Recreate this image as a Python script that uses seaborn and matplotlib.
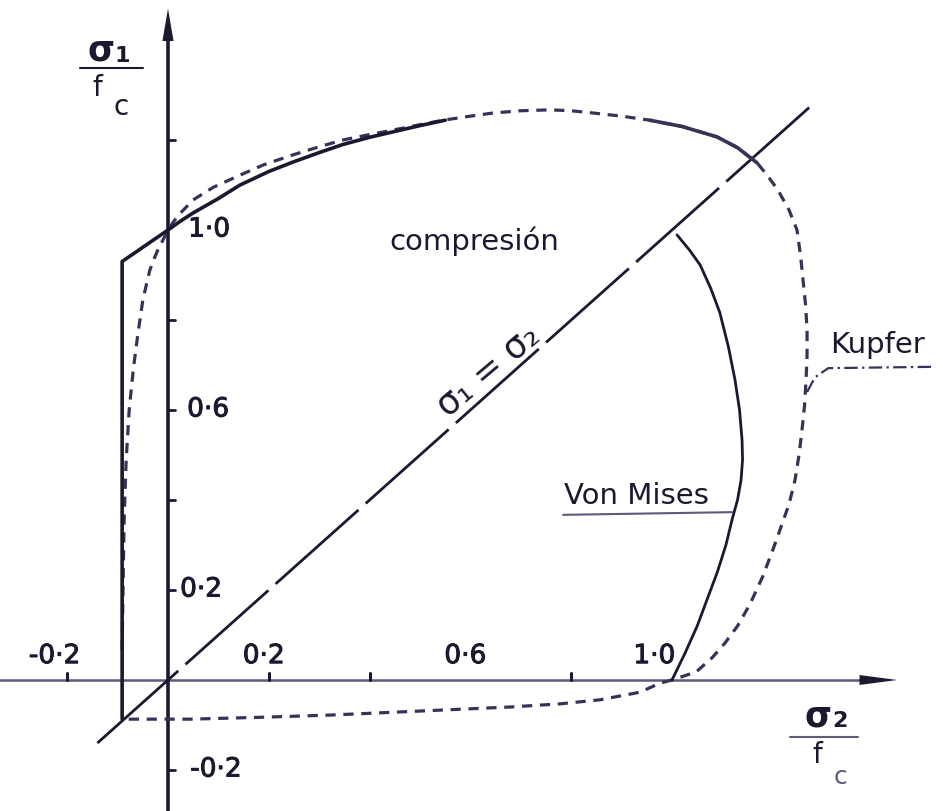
import matplotlib
matplotlib.use("Agg")
import matplotlib.pyplot as plt
import matplotlib.patheffects as pe
import numpy as np
import pandas as pd
import seaborn as sns

# ---- envelope data (sigma2/fc, sigma1/fc), compression positive ----
# Kupfer biaxial envelope: tension-compression branch, then compression quadrant
kupfer_s2 = [-0.091, -0.089, -0.087, -0.083, -0.077, -0.069, -0.060, -0.050, -0.043,
             -0.036, -0.028, -0.020, -0.009, 0.0,
             0.012, 0.025, 0.05, 0.09, 0.143, 0.19, 0.248, 0.30, 0.347, 0.40,
             0.446, 0.50, 0.546, 0.60, 0.645, 0.70, 0.758, 0.80, 0.843, 0.90,
             0.956, 1.02, 1.089, 1.13, 1.169,
             1.19, 1.21, 1.232, 1.248, 1.255, 1.26, 1.265, 1.268, 1.268, 1.266,
             1.263, 1.258, 1.252, 1.244, 1.232, 1.214, 1.20, 1.18, 1.155, 1.13,
             1.105, 1.08, 1.048, 1.0]
kupfer_s1 = [0.067, 0.222, 0.356, 0.489, 0.60, 0.689, 0.767, 0.844, 0.878,
             0.911, 0.935, 0.956, 0.98, 1.0,
             1.02, 1.038, 1.067, 1.095, 1.122, 1.145, 1.167, 1.185, 1.20, 1.212,
             1.222, 1.234, 1.244, 1.253, 1.26, 1.265, 1.267, 1.265, 1.26, 1.253,
             1.244, 1.23, 1.207, 1.183, 1.149,
             1.12, 1.089, 1.045, 1.0, 0.944, 0.889, 0.833, 0.778, 0.722, 0.667,
             0.61, 0.556, 0.50, 0.444, 0.39, 0.333, 0.289, 0.23, 0.169, 0.12,
             0.082, 0.05, 0.018, 0.0]
# Kupfer envelope, compression-tension branch below the sigma2 axis
kupfer_t_s2 = [1.0, 0.976, 0.937, 0.857, 0.778, 0.679, 0.599, 0.46, 0.321, 0.18, 0.044, -0.091]
kupfer_t_s1 = [0.0, -0.007, -0.027, -0.044, -0.053, -0.060, -0.064, -0.071, -0.078, -0.083, -0.087, -0.087]

# experimental (solid) envelope
exp_s2 = [-0.091, -0.091, 0.0, 0.025, 0.05, 0.10, 0.143, 0.20, 0.248, 0.30,
          0.347, 0.40, 0.446, 0.50, 0.55]
exp_s1 = [-0.087, 0.93, 1.0, 1.02, 1.038, 1.07, 1.10, 1.13, 1.151, 1.172,
          1.19, 1.206, 1.218, 1.232, 1.244]
exp2_s2 = [0.956, 1.02, 1.089, 1.13, 1.169]
exp2_s1 = [1.244, 1.23, 1.207, 1.183, 1.149]

# Von Mises criterion
vm_s2 = [1.01, 1.035, 1.056, 1.077, 1.095, 1.112, 1.125, 1.134, 1.139, 1.14,
         1.137, 1.13, 1.12, 1.107, 1.09, 1.07, 1.05, 1.026, 1.0]
vm_s1 = [0.989, 0.955, 0.922, 0.87, 0.816, 0.74, 0.667, 0.60, 0.533, 0.49,
         0.444, 0.40, 0.36, 0.30, 0.24, 0.18, 0.12, 0.06, 0.0]

# equal biaxial line sigma1 = sigma2
diag = [-0.14, 1.285]

# axis ticks and labels
xticks = [-0.2, 0.2, 0.4, 0.8]
yticks = [1.2, 0.8, 0.6, 0.4, 0.2, -0.2]
xlabels = ["-0·2", "0·2", "0·6", "1·0"]
xlabel_vals = [-0.2, 0.2, 0.6, 1.0]
ylabels = ["1·0", "0·6", "0·2", "-0·2"]
ylabel_vals = [1.0, 0.6, 0.2, -0.2]

INK = "#1d1830"
DASH = "#3b3156"
AXISX = "#625877"

sns.set_theme(style="white")
plt.rcParams["font.family"] = ["DejaVu Sans"]

fig = plt.figure(figsize=(9.43, 8.11), dpi=100, facecolor="white")
ax = fig.add_axes([0, 0, 1, 1])
ax.set_xlim(-168 / 504, (943 - 168) / 504)
ax.set_ylim((680 - 811) / 450, 680 / 450)
ax.set_facecolor("white")
ax.axis("off")

# ---- axes with arrows ----
ax.plot([-0.34, 1.375], [0, 0], color=AXISX, lw=1.8, solid_capstyle="butt", zorder=2)
ax.fill([1.372, 1.447, 1.372], [0.011, 0.0, -0.011], color=INK, lw=0, zorder=3)
ax.plot([0, 0], [-0.30, 1.43], color=INK, lw=2.6, solid_capstyle="butt", zorder=4)
ax.fill([-0.011, 0.0, 0.011], [1.42, 1.492, 1.42], color=INK, lw=0, zorder=4)

for t in xticks:
    ax.plot([t, t], [0, 0.016], color=INK, lw=2.2, zorder=3)
for t in yticks:
    ax.plot([0, 0.014], [t, t], color=INK, lw=2.0, zorder=3)

tick_fx = [pe.withStroke(linewidth=0.7, foreground=INK)]
xoff = {-0.2: -0.025, 0.2: -0.01, 0.6: -0.01, 1.0: -0.035}
for v, s in zip(xlabel_vals, xlabels):
    ax.text(v + xoff[v], 0.053, s, ha="center", va="center", fontsize=19,
            color=INK, path_effects=tick_fx)
ypos = {1.0: 0.040, 0.6: 0.038, 0.2: 0.024, -0.2: 0.044}
for v, s in zip(ylabel_vals, ylabels):
    ax.text(ypos[v], v + 0.001, s, ha="left", va="center", fontsize=19,
            color=INK, path_effects=tick_fx)

# ---- envelopes ----
def curve(xs, ys, **kw):
    df = pd.DataFrame({"s2": xs, "s1": ys})
    sns.lineplot(data=df, x="s2", y="s1", sort=False, estimator=None, ax=ax,
                 legend=False, **kw)

curve(diag, diag, color=INK, lw=2.0, linestyle=(1, (40, 3.5)), zorder=3)
curve(kupfer_s2, kupfer_s1, color=DASH, lw=2.3, linestyle=(0, (3.2, 2.4)), zorder=5)
curve(kupfer_t_s2, kupfer_t_s1, color=DASH, lw=2.3, linestyle=(0, (3.2, 2.4)), zorder=5)
curve(exp_s2, exp_s1, color=INK, lw=2.6, zorder=6)
curve(exp2_s2, exp2_s1, color=DASH, lw=2.6, zorder=6)
curve(vm_s2, vm_s1, color=INK, lw=2.0, zorder=6)

# ---- labels ----
ax.text(0.607, 0.975, "compresión", ha="center", va="center", fontsize=21, color=INK)
ax.text(1.313, 0.744, "Kupfer", ha="left", va="center", fontsize=21, color=INK)
ax.plot([1.268, 1.284, 1.31, 1.518], [0.64, 0.673, 0.693, 0.696],
        color=DASH, lw=1.6, linestyle=(0, (6, 2, 1, 2)), zorder=4)
ax.text(0.786, 0.41, "Von Mises", ha="left", va="center", fontsize=21, color=INK)
ax.plot([0.784, 1.119], [0.367, 0.373], color=AXISX, lw=1.5, zorder=4)

ax.text(0.635, 0.687, "σ₁ = σ₂", ha="center", va="center",
        fontsize=25, color=INK, rotation=40, rotation_mode="anchor")

# axis titles written as fractions
ax.text(-0.133, 1.398, "σ", ha="center", va="center", fontsize=25,
        fontweight="bold", color=INK)
ax.text(-0.090, 1.386, "1", ha="center", va="center", fontsize=16,
        fontweight="bold", color=INK)
ax.plot([-0.175, -0.05], [1.36, 1.36], color=INK, lw=1.5)
ax.text(-0.141, 1.316, "f", ha="center", va="center", fontsize=20, color=INK)
ax.text(-0.093, 1.273, "c", ha="center", va="center", fontsize=20, color=INK)

ax.text(1.29, -0.082, "σ", ha="center", va="center", fontsize=25,
        fontweight="bold", color=INK)
ax.text(1.333, -0.092, "2", ha="center", va="center", fontsize=16,
        fontweight="bold", color=INK)
ax.plot([1.234, 1.369], [-0.127, -0.127], color=AXISX, lw=1.5)
ax.text(1.288, -0.167, "f", ha="center", va="center", fontsize=20, color=INK)
ax.text(1.335, -0.216, "c", ha="center", va="center", fontsize=18, color=AXISX)

fig.savefig("out.png", dpi=100, facecolor="white")
